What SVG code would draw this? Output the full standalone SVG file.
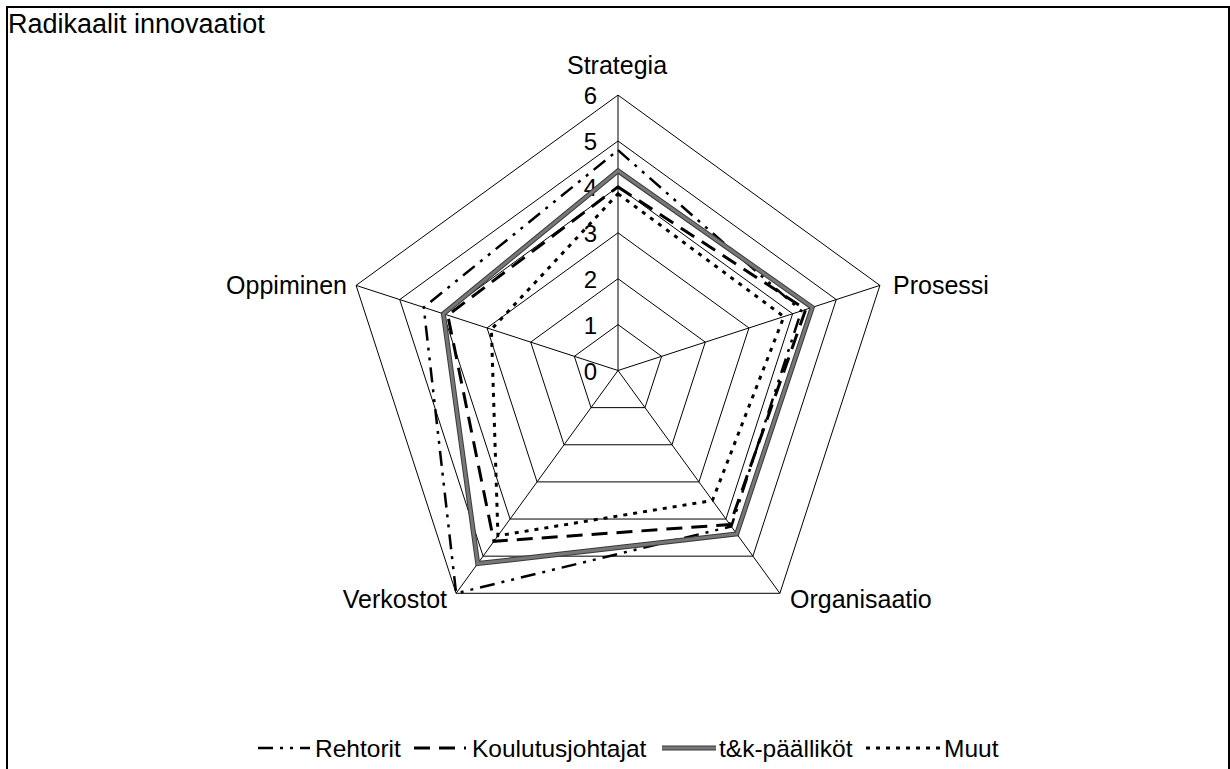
<svg xmlns="http://www.w3.org/2000/svg" width="1230" height="769" viewBox="0 0 1230 769">
<style>
text{font-family:"Liberation Sans",Arial,sans-serif;fill:#000}
.t{font-size:27px}
.ax{font-size:25px}
.num{font-size:24px;text-anchor:end}
.lg{font-size:24.5px}
.grid{fill:none;stroke:#000;stroke-width:1}
.s{fill:none;stroke-linejoin:miter}
.reh{stroke:#000;stroke-width:2.5;stroke-dasharray:15 7 3 7 3 7}
.kou{stroke:#000;stroke-width:3;stroke-dasharray:16 9}
.tk1{stroke:#3a3a3a;stroke-width:5}
.tk2{stroke:#777;stroke-width:3}
.muu{stroke:#000;stroke-width:3;stroke-dasharray:4 6}
</style>
<rect x="7" y="7" width="1222" height="800" fill="#fff" stroke="#000" stroke-width="2"/>
<g id="title"><text class="t" x="8" y="33">Radikaalit innovaatiot</text></g>
<g id="grid">
<polygon class="grid" points="618,324.6 661.65,356.32 644.98,407.63 591.02,407.63 574.35,356.32"/>
<polygon class="grid" points="618,278.7 705.31,342.13 671.96,444.77 564.04,444.77 530.69,342.13"/>
<polygon class="grid" points="618,232.8 748.96,327.95 698.94,481.9 537.06,481.9 487.04,327.95"/>
<polygon class="grid" points="618,186.9 792.61,313.76 725.92,519.04 510.08,519.04 443.39,313.76"/>
<polygon class="grid" points="618,141 836.27,299.58 752.9,556.17 483.1,556.17 399.73,299.58"/>
<polygon class="grid" points="618,95.1 879.92,285.4 779.88,593.3 456.12,593.3 356.08,285.4"/>
<path class="grid" d="M618,370.5L618,95.1M618,370.5L879.92,285.4M618,370.5L779.88,593.3M618,370.5L456.12,593.3M618,370.5L356.08,285.4"/>
</g>
<g id="scale">
<text class="num" x="597" y="104">6</text>
<text class="num" x="597" y="150">5</text>
<text class="num" x="597" y="196">4</text>
<text class="num" x="597" y="242">3</text>
<text class="num" x="597" y="288">2</text>
<text class="num" x="597" y="334">1</text>
<text class="num" x="597" y="380">0</text>
</g>
<g id="axis-labels">
<text class="ax" x="617" y="74" text-anchor="middle">Strategia</text>
<text class="ax" x="893" y="294">Prosessi</text>
<text class="ax" x="790" y="608">Organisaatio</text>
<text class="ax" x="447" y="608" text-anchor="end">Verkostot</text>
<text class="ax" x="347" y="294" text-anchor="end">Oppiminen</text>
</g>
<g id="connectors">
<g id="series-rehtorit"><polygon class="s reh" points="618,150.18 801.35,310.93 731.31,526.46 456.12,593.3 423.74,307.38"/></g>
<g id="series-koulutusjohtajat"><polygon class="s kou" points="618,186.9 805.71,309.51 729.97,524.61 493.89,541.32 447.75,315.18"/></g>
<g id="series-tk"><polygon class="s tk1" points="618,170.83 812.26,307.38 736.71,533.89 477.71,563.6 443.39,313.76"/><polygon class="s tk2" points="618,170.83 812.26,307.38 736.71,533.89 477.71,563.6 443.39,313.76"/></g>
<g id="series-muut"><polygon class="s muu" points="618,193.78 783.88,316.6 712.43,500.47 497.94,535.75 491.4,329.37"/></g>
</g>
<g id="legend">
<g id="legend-rehtorit"><line class="reh" x1="258" y1="748" x2="310" y2="748"/><text class="lg" x="315" y="757">Rehtorit</text></g>
<g id="legend-koulutusjohtajat"><line class="kou" x1="414" y1="748" x2="466" y2="748"/><text class="lg" x="472" y="757">Koulutusjohtajat</text></g>
<g id="legend-tk"><line class="tk1" x1="662" y1="748" x2="716" y2="748"/><line class="tk2" x1="662" y1="748" x2="716" y2="748"/><text class="lg" x="719" y="757">t&amp;k-päälliköt</text></g>
<g id="legend-muut"><line class="muu" x1="866" y1="748" x2="940" y2="748"/><text class="lg" x="944" y="757">Muut</text></g>
</g>
</svg>
